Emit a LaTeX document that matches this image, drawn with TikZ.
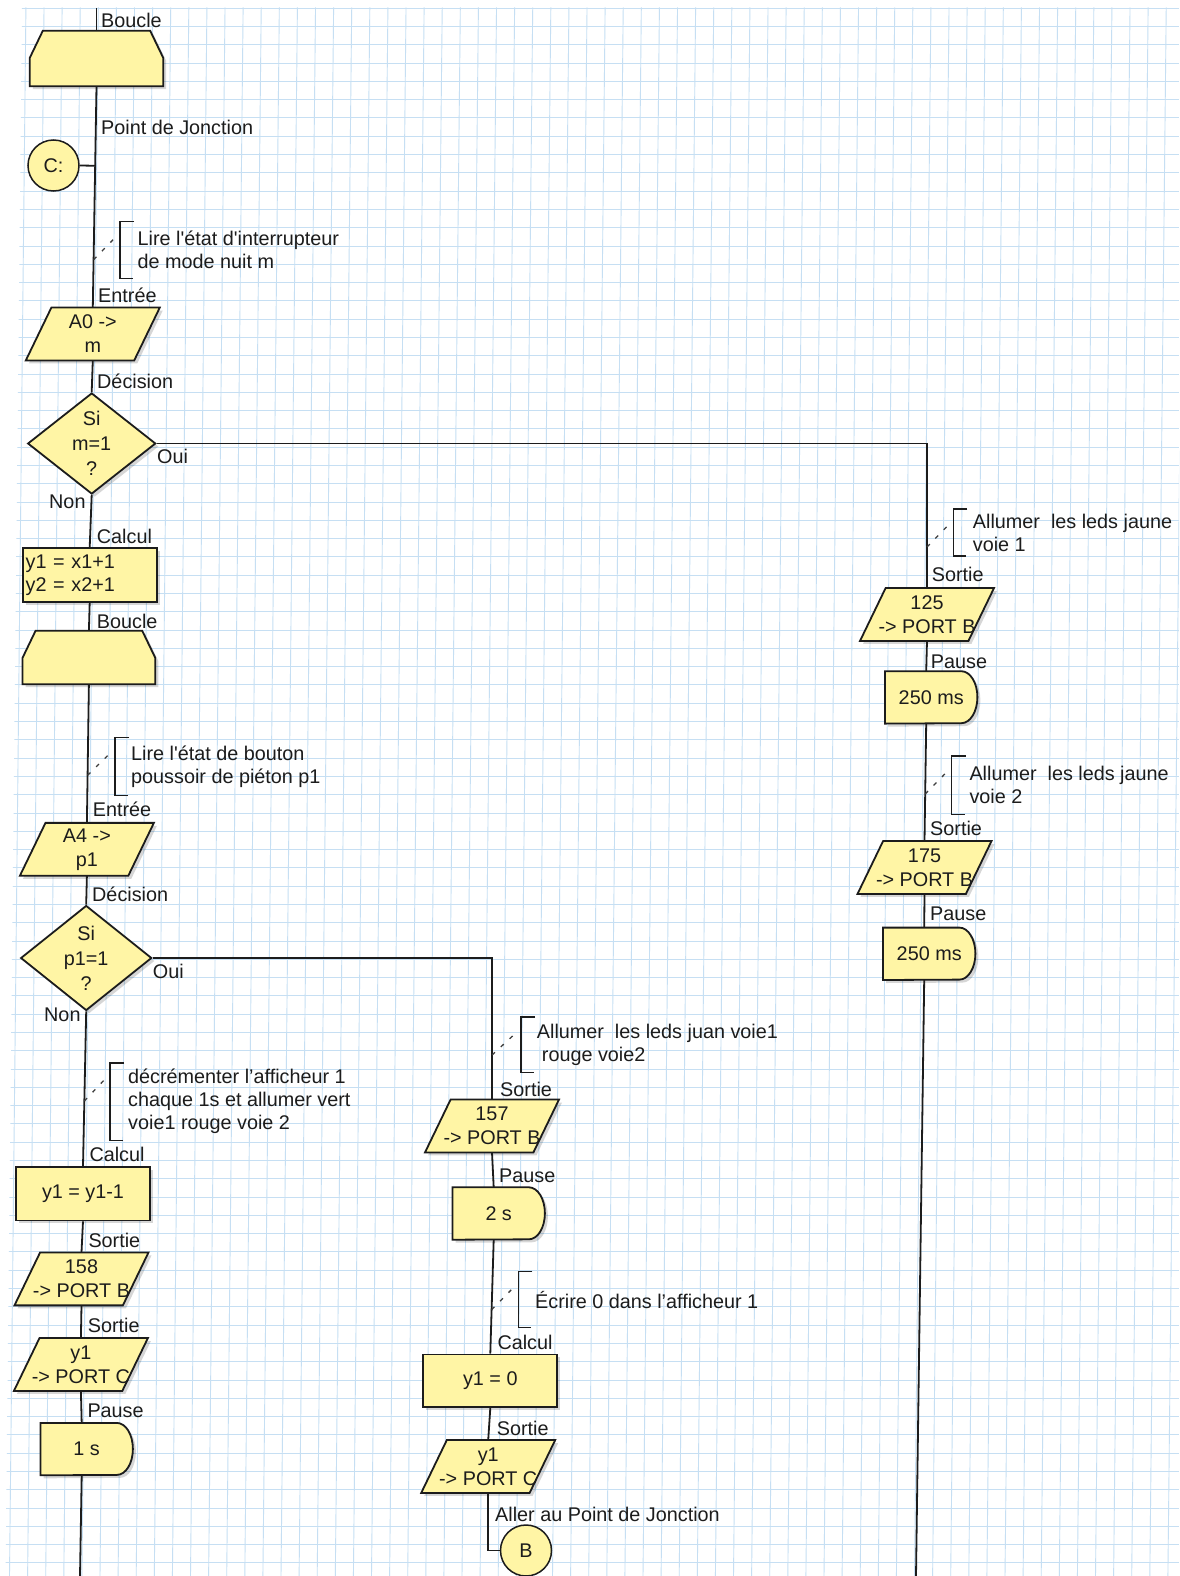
\documentclass[tikz,border=0pt]{standalone}
\usepackage{fontspec}
\setmainfont{Liberation Sans}
\usetikzlibrary{shapes.geometric,calc,shadows}

\definecolor{boxfill}{RGB}{255,245,165}
\definecolor{gridblue}{RGB}{198,223,243}
\definecolor{ink}{RGB}{28,28,28}

\pgfdeclarelayer{paper}
\pgfdeclarelayer{shapes}
\pgfsetlayers{paper,shapes,main}

\tikzset{
  every node/.style={font=\fontsize{19.8}{23}\selectfont, text=ink},
  lbl/.style={anchor=base west, inner sep=0pt},
  flow/.style={draw=ink, line width=1.8pt},
  shapeline/.style={draw=ink, line width=1.8pt, fill=boxfill, line join=miter},
  shapeshadow/.style={fill=black, opacity=0.16, transform canvas={xshift=3pt, yshift=-3pt}},
  boxshadow/.style={drop shadow={shadow xshift=3pt, shadow yshift=-3pt, fill=black, opacity=0.16}},
  gridline/.style={draw=gridblue, line width=0.9pt},
  brk/.style={draw=ink, line width=1.5pt},
  notelink/.style={draw=ink!85, line width=1.3pt, dash pattern=on 4pt off 8pt},
  note/.style={anchor=north west, inner ysep=0pt, align=left},
  ionode/.style={rectangle, inner sep=0pt, minimum width=108pt, minimum height=52.5pt,
    align=center, font=\fontsize{19.8}{24}\selectfont},
  loopnode/.style={rectangle, inner sep=0pt, minimum width=133pt, minimum height=55pt},
  delaynode/.style={rectangle, inner sep=0pt, minimum width=92pt, minimum height=52pt},
  calcbox/.style={rectangle, draw=ink, line width=1.8pt, fill=boxfill, inner xsep=3pt,
    inner ysep=0pt, minimum width=134pt, minimum height=53pt, boxshadow},
  decision/.style={diamond, aspect=1.3, draw=ink, line width=1.8pt, fill=boxfill,
    inner sep=0pt, minimum width=128pt, minimum height=101pt, align=center,
    font=\fontsize{19.8}{25}\selectfont, boxshadow},
  junction/.style={circle, draw=ink, line width=1.5pt, fill=boxfill, inner sep=0pt,
    minimum size=51pt},
}

% outlines drawn behind the text of input/output, loop and delay blocks
\newcommand\ioshape[1]{%
  \begin{pgfonlayer}{shapes}
    \path[shapeshadow] ($(#1.north west)+(12.8,0)$) -- ($(#1.north east)+(12.8,0)$)
      -- ($(#1.south east)+(-12.8,0)$) -- ($(#1.south west)+(-12.8,0)$) -- cycle;
    \path[shapeline] ($(#1.north west)+(12.8,0)$) -- ($(#1.north east)+(12.8,0)$)
      -- ($(#1.south east)+(-12.8,0)$) -- ($(#1.south west)+(-12.8,0)$) -- cycle;
  \end{pgfonlayer}}
\newcommand\loopshape[1]{%
  \begin{pgfonlayer}{shapes}
    \path[shapeshadow] ($(#1.north west)+(13,0)$) -- ($(#1.north east)+(-13,0)$)
      -- ($(#1.north east)+(0,27)$) -- (#1.south east) -- (#1.south west)
      -- ($(#1.north west)+(0,27)$) -- cycle;
    \path[shapeline] ($(#1.north west)+(13,0)$) -- ($(#1.north east)+(-13,0)$)
      -- ($(#1.north east)+(0,27)$) -- (#1.south east) -- (#1.south west)
      -- ($(#1.north west)+(0,27)$) -- cycle;
  \end{pgfonlayer}}
\newcommand\delayshape[1]{%
  \begin{pgfonlayer}{shapes}
    \path[shapeshadow] (#1.north west) -- ($(#1.north east)+(-16,0)$)
      arc[start angle=90, end angle=-90, x radius=16pt, y radius=26pt]
      -- (#1.south west) -- cycle;
    \path[shapeline] (#1.north west) -- ($(#1.north east)+(-16,0)$)
      arc[start angle=90, end angle=-90, x radius=16pt, y radius=26pt]
      -- (#1.south west) -- cycle;
  \end{pgfonlayer}
  \coordinate (#1-t) at ([xshift=-5pt]#1.north);
  \coordinate (#1-b) at ([xshift=-5pt]#1.south);}
% comment bracket and its dashed link to the flow line between #2 and #3
\newcommand\bracketof[1]{%
  \draw[brk] ($(#1.north west)+(14,0)$) -| (#1.south west) -- ++(13,0);}
\newcommand\linkof[3]{%
  \coordinate (#1-e) at ($(#1.north west)+(-3,14)$);
  \coordinate (#1-g) at ($(#1-e)+(-24,24)$);
  \coordinate (#1-s) at ($(#2)!(#1-g)!(#3)$);
  \draw[notelink] (#1-s) -- (#1-e);}

\begin{document}
\begin{tikzpicture}[x=1pt, y=-1pt]
\useasboundingbox (0,0) rectangle (1179,1576);

% squared paper
\begin{pgfonlayer}{paper}
  \fill[white] (0,0) rectangle (1179,1576);
  \begin{scope}
    \clip (22,7.5) -- (1179,7.5) -- (1179,1576) -- (5.5,1576) -- cycle;
    \foreach \k in {0,...,65}
      \draw[gridline] ({26+18.1*\k},0) -- ({9.5+18.1*\k},1576);
    \foreach \k in {0,...,86}
      \draw[gridline] (0,{8.2+18.29*\k}) -- (1179,{8.2+18.29*\k});
  \end{scope}
\end{pgfonlayer}

% ---------- main column ----------
\coordinate (top1) at (96.5,8);
\node[lbl] (t1) at (101,28) {Boucle};
\node[loopnode] (loop1) at (96.5,58.5) {};
\loopshape{loop1}
\node[lbl] (t2) at (101,135) {Point de Jonction};
\node[junction] (jc) at (53.5,165.5) {C:};
\node[note, minimum height=56.6pt, inner xsep=17.5pt] (cm1) at (120,221.7)
  {Lire l\textquotesingle état d\textquotesingle interrupteur\\de mode nuit m};
\node[lbl] (t3) at (98,302) {Entrée};
\node[ionode] (in1) at (92.8,334) {A0 ->\\m};
\ioshape{in1}
\node[lbl] (t4) at (97,388) {Décision};
\node[decision] (dec1) at (91.7,443.5) {Si\\m=1\\?};
\node[lbl] (t5) at (157,463) {Oui};
\node[lbl] (t6) at (49,508) {Non};
\node[lbl] (t7) at (96.7,543.3) {Calcul};
\node[calcbox, minimum height=53.4pt, text width=128pt, align=left] (calc1) at (89.7,575)
  {y1 = x1+1\\y2 = x2+1};
\node[lbl] (t8) at (96.7,628.3) {Boucle};
\node[loopnode, minimum width=132.3pt, minimum height=53pt] (loop2) at (88.9,657.5) {};
\loopshape{loop2}
\node[note, minimum height=57.7pt, inner xsep=16pt] (cm2) at (115,737.3)
  {Lire l\textquotesingle état de bouton\\poussoir de piéton p1};
\node[lbl] (t9) at (92.7,816.7) {Entrée};
\node[ionode] (in2) at (86.9,849.3) {A4 ->\\p1};
\ioshape{in2}
\node[lbl] (t10) at (92,901.7) {Décision};
\node[decision, minimum width=131pt, minimum height=105pt] (dec2) at (86.2,958) {Si\\p1=1\\?};
\node[lbl] (t11) at (152.7,978.3) {Oui};
\node[lbl] (t12) at (44,1021) {Non};
\node[note, minimum height=77pt, inner xsep=18pt] (cm3) at (110,1063)
  {décrémenter l'afficheur 1\\chaque 1s et allumer vert\\voie1 rouge voie 2};
\node[lbl] (t13) at (89.3,1161.8) {Calcul};
\node[calcbox, minimum height=53.2pt] (calc2) at (83,1193.8) {y1 = y1-1};
\node[lbl] (t14) at (88.3,1247) {Sortie};
\node[ionode] (out1) at (81.5,1278.9) {158\\-> PORT B};
\ioshape{out1}
\node[lbl] (t15) at (87.7,1332) {Sortie};
\node[ionode] (out2) at (80.9,1364.5) {y1\\-> PORT C};
\ioshape{out2}
\node[lbl] (t16) at (87.3,1417) {Pause};
\node[delaynode] (del1) at (86.7,1449.1) {1 s};
\delayshape{del1}
\coordinate (end1) at (80,1576);

% ---------- pedestrian branch ----------
\node[lbl] (t17) at (500,1096) {Sortie};
\node[ionode] (out3) at (492,1126) {157\\-> PORT B};
\ioshape{out3}
\node[note, minimum height=55pt, inner xsep=15.7pt] (cm4) at (521,1017)
  {Allumer\ \ les leds juan voie1\\\hspace*{5pt}rouge voie2};
\node[lbl] (t18) at (499,1182.5) {Pause};
\node[delaynode] (del2) at (498.7,1213.5) {2 s};
\delayshape{del2}
\node[note, minimum height=55.6pt, inner xsep=16.7pt] (cm5) at (518.3,1271.7)
  {Écrire 0 dans l'afficheur 1};
\node[lbl] (t19) at (497.3,1349.6) {Calcul};
\node[calcbox, minimum height=52.8pt] (calc3) at (490.3,1380.8) {y1 = 0};
\node[lbl] (t20) at (496.7,1435.5) {Sortie};
\node[ionode] (out4) at (488.2,1466.5) {y1\\-> PORT C};
\ioshape{out4}
\node[lbl] (t21) at (495,1521.9) {Aller au Point de Jonction};
\node[junction] (jb) at (526,1550.5) {B};

% ---------- night mode branch ----------
\node[note, minimum height=46.6pt, inner xsep=19.4pt] (cm6) at (953.3,509)
  {Allumer\ \ les leds jaune\\voie 1};
\node[lbl] (t22) at (931.7,581.7) {Sortie};
\node[ionode] (out5) at (927,614.5) {125\\-> PORT B};
\ioshape{out5}
\node[lbl] (t23) at (930.7,668.3) {Pause};
\node[delaynode] (del3) at (931.2,697.4) {250 ms};
\delayshape{del3}
\node[note, minimum height=58.3pt, inner xsep=17.6pt] (cm7) at (951.7,756)
  {Allumer\ \ les leds jaune\\voie 2};
\node[lbl] (t24) at (930,835) {Sortie};
\node[ionode] (out6) at (924.5,867.5) {175\\-> PORT B};
\ioshape{out6}
\node[lbl] (t25) at (930,920) {Pause};
\node[delaynode] (del4) at (929.2,953.8) {250 ms};
\delayshape{del4}
\coordinate (end3) at (916,1576);

% ---------- connectors ----------
\coordinate (cor1) at (dec1.east -| out5.north);
\coordinate (cor2) at (dec2.east -| out3.north);
\draw[flow] (top1) -- (loop1.north);
\draw[flow] (loop1.south) -- (in1.north);
\draw[flow] (jc.east) -- ($(loop1.south)!(jc.east)!(in1.north)$);
\draw[flow] (in1.south) -- (dec1.north);
\draw[flow] (dec1.south) -- (calc1.north);
\draw[flow] (calc1.south) -- (loop2.north);
\draw[flow] (loop2.south) -- (in2.north);
\draw[flow] (in2.south) -- (dec2.north);
\draw[flow] (dec2.south) -- (calc2.north);
\draw[flow] (calc2.south) -- (out1.north);
\draw[flow] (out1.south) -- (out2.north);
\draw[flow] (out2.south) -- (del1-t);
\draw[flow] (del1-b) -- (end1);

\draw[flow] (dec2.east) -- (cor2) -- (out3.north);
\draw[flow] (out3.south) -- (del2-t);
\draw[flow] (del2-b) -- (calc3.north);
\draw[flow] (calc3.south) -- (out4.north);
\draw[flow] (out4.south) |- (jb.west);

\draw[flow] (dec1.east) -- (cor1) -- (out5.north);
\draw[flow] (out5.south) -- (del3-t);
\draw[flow] (del3-b) -- (out6.north);
\draw[flow] (out6.south) -- (del4-t);
\draw[flow] (del4-b) -- (end3);

% ---------- comments ----------
\bracketof{cm1} \linkof{cm1}{loop1.south}{in1.north}
\bracketof{cm2} \linkof{cm2}{loop2.south}{in2.north}
\bracketof{cm3} \linkof{cm3}{dec2.south}{calc2.north}
\bracketof{cm4} \linkof{cm4}{cor2}{out3.north}
\bracketof{cm5} \linkof{cm5}{del2-b}{calc3.north}
\bracketof{cm6} \linkof{cm6}{cor1}{out5.north}
\bracketof{cm7} \linkof{cm7}{del3-b}{out6.north}
\end{tikzpicture}
\end{document}
